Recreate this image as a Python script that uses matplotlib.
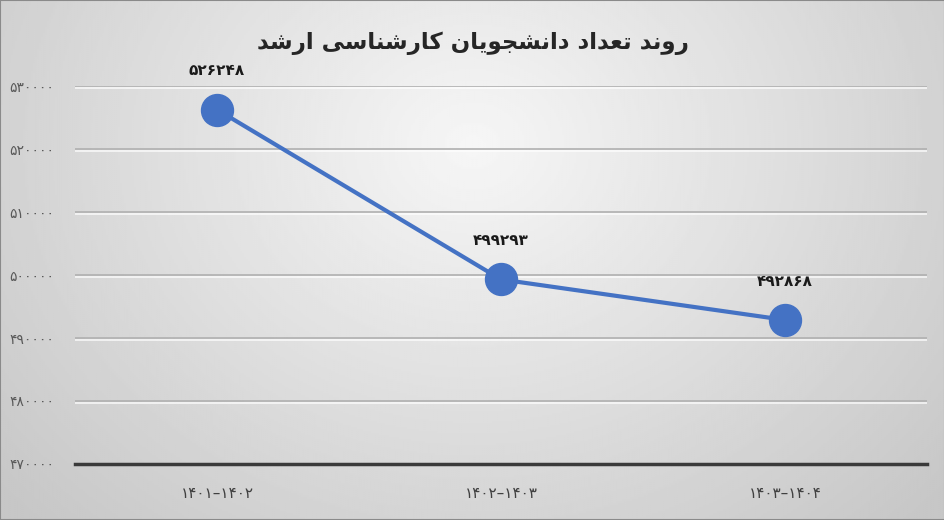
import matplotlib
matplotlib.use("Agg")
import matplotlib.pyplot as plt
import matplotlib.patheffects as pe
import numpy as np
from matplotlib.patches import Rectangle

plt.rcParams["font.family"] = ["DejaVu Sans"]

title = "روند تعداد دانشجویان کارشناسی ارشد"
periods = ["۱۴۰۱–۱۴۰۲", "۱۴۰۲–۱۴۰۳", "۱۴۰۳–۱۴۰۴"]
students = [526248, 499293, 492868]
y_ticks = [470000, 480000, 490000, 500000, 510000, 520000, 530000]

# contextual forms: isolated, final, initial, medial
FORMS = {
    "ا": ("\uFE8D", "\uFE8E", None, None),
    "د": ("\uFEA9", "\uFEAA", None, None),
    "ر": ("\uFEAD", "\uFEAE", None, None),
    "و": ("\uFEED", "\uFEEE", None, None),
    "ن": ("\uFEE5", "\uFEE6", "\uFEE7", "\uFEE8"),
    "ت": ("\uFE95", "\uFE96", "\uFE97", "\uFE98"),
    "ع": ("\uFEC9", "\uFECA", "\uFECB", "\uFECC"),
    "ش": ("\uFEB5", "\uFEB6", "\uFEB7", "\uFEB8"),
    "ج": ("\uFE9D", "\uFE9E", "\uFE9F", "\uFEA0"),
    "ی": ("\uFBFC", "\uFBFD", "\uFBFE", "\uFBFF"),
    "ک": ("\uFB8E", "\uFB8F", "\uFB90", "\uFB91"),
    "س": ("\uFEB1", "\uFEB2", "\uFEB3", "\uFEB4"),
}


def shape(text):
    out = []
    for i, ch in enumerate(text):
        if ch not in FORMS:
            out.append(ch)
            continue
        prev = text[i - 1] if i > 0 else ""
        nxt = text[i + 1] if i + 1 < len(text) else ""
        iso, fin, ini, med = FORMS[ch]
        joins_prev = prev in FORMS and FORMS[prev][2] is not None
        joins_next = nxt in FORMS and ini is not None
        if joins_prev and joins_next:
            out.append(med)
        elif joins_prev:
            out.append(fin)
        elif joins_next:
            out.append(ini)
        else:
            out.append(iso)
    return "".join(reversed(out))


FA_DIGITS = str.maketrans("0123456789", "۰۱۲۳۴۵۶۷۸۹")


def fa(n):
    return str(n).translate(FA_DIGITS)


fig = plt.figure(figsize=(9.45, 5.2), dpi=100)

# radial grey background
bg = fig.add_axes([0, 0, 1, 1], zorder=-10)
yy, xx = np.mgrid[0:1:260j, 0:1:470j]
r = np.sqrt(((xx - 0.5) / 0.75) ** 2 + ((yy - 0.28) / 1.15) ** 2)
v = np.clip(0.965 - 0.21 * r, 0.78, 1.0)
bg.imshow(v, cmap="gray", vmin=0, vmax=1, aspect="auto", extent=[0, 1, 1, 0])
bg.set_xlim(0, 1)
bg.set_ylim(1, 0)
bg.axis("off")

ax = fig.add_axes([0.0794, 0.1077, 0.9016, 0.7269])
ax.set_facecolor("none")

x = np.arange(len(periods))
ax.plot(x, students, color="#4472C4", lw=3, marker="o", markersize=23,
        solid_capstyle="round", zorder=5)
for xi, val in zip(x, students):
    ax.annotate(fa(val), (xi, val), xytext=(0, 28), textcoords="offset points",
                ha="center", va="center", fontsize=11, fontweight="bold",
                color="#1a1a1a", annotation_clip=False)

ax.set_xlim(-0.5, len(periods) - 0.5)
ax.set_ylim(y_ticks[0], y_ticks[-1])
ax.set_yticks(y_ticks)
ax.set_yticklabels([fa(t) for t in y_ticks], fontsize=10, color="#595959")
ax.set_xticks(x)
ax.set_xticklabels(periods, fontsize=11, color="#404040")
ax.tick_params(axis="y", length=0, pad=15)
ax.tick_params(axis="x", length=0, pad=16)

ax.grid(axis="y", color="#b0b0b0", lw=1.2,
        path_effects=[pe.SimpleLineShadow(offset=(0, -1.2), shadow_color="white", alpha=0.8),
                      pe.Normal()])
ax.set_axisbelow(True)
for side in ["left", "right", "top"]:
    ax.spines[side].set_visible(False)
ax.spines["bottom"].set_color("#3a3a3a")
ax.spines["bottom"].set_linewidth(2.5)

fig.text(0.5, 0.917, shape(title), ha="center", va="center", fontsize=16.5,
         fontweight="bold", color="#262626")

fig.patches.append(Rectangle((0, 0), 1, 1, transform=fig.transFigure, fill=False,
                             edgecolor="#8a8a8a", lw=1.5))

fig.savefig("out.png", dpi=100)
